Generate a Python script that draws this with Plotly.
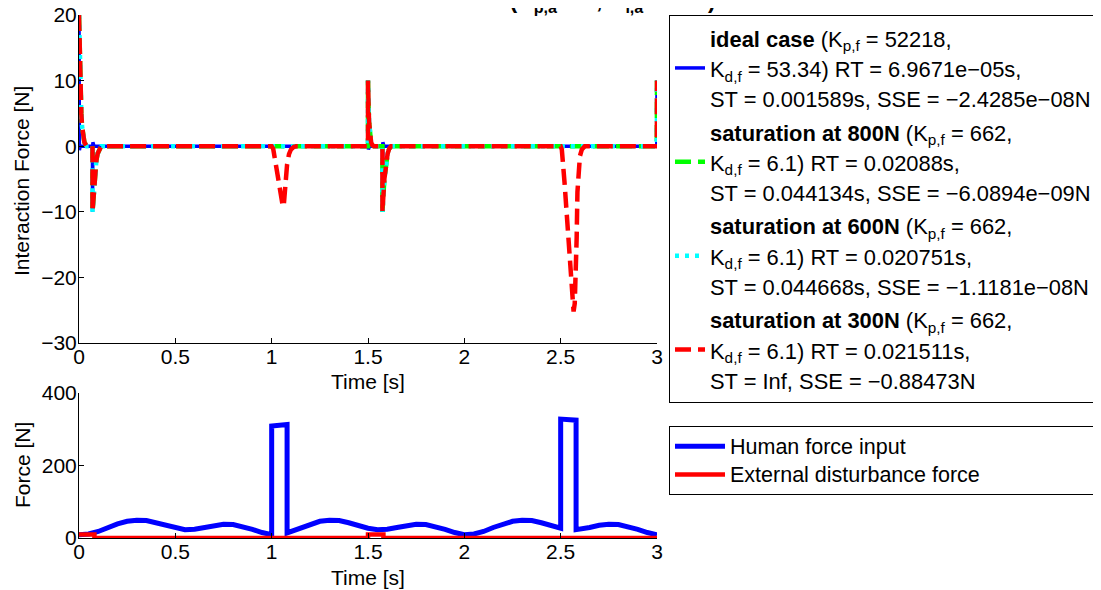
import plotly.graph_objects as go

# ---------------- data ----------------
# Top panel: interaction force [N] for four controller variants
ideal_t = [0, 0.002, 0.006, 0.07, 0.07, 0.072, 0.078, 1.5, 1.5, 1.502, 1.507,
           1.575, 1.575, 1.577, 1.583, 2.999, 3.0]
ideal_f = [20, -0.6, 0, 0, -10, 0.6, 0, 0, 10, -0.5, 0,
           0, -10, 0.6, 0, 0, 10]

sat800_t = [0, 0.004, 0.008, 0.012, 0.016, 0.02, 0.028, 0.04,
            0.07, 0.07, 0.075, 0.08, 0.085, 0.09, 0.097, 0.105, 0.115,
            1.5, 1.5, 1.503, 1.506, 1.509, 1.512, 1.516, 1.522, 1.53,
            1.575, 1.575, 1.58, 1.585, 1.59, 1.595, 1.602, 1.61, 1.62,
            2.999, 3.0]
sat800_f = [20, 13, 8, 5, 3, 1.8, 0.6, 0,
            0, -10, -7.5, -5, -3.3, -2.2, -1.1, -0.4, 0,
            0, 10, 6, 3.5, 2, 1.2, 0.6, 0.2, 0,
            0, -10, -7.5, -5, -3.3, -2.2, -1.1, -0.4, 0,
            0, 10]

sat600_t = [0, 0.004, 0.008, 0.012, 0.016, 0.02, 0.028, 0.04,
            0.07, 0.07, 0.075, 0.08, 0.085, 0.09, 0.097, 0.105, 0.115,
            1.5, 1.5, 1.503, 1.506, 1.509, 1.512, 1.516, 1.522, 1.53,
            1.575, 1.575, 1.58, 1.585, 1.59, 1.595, 1.602, 1.61, 1.62,
            2.999, 3.0]
sat600_f = [20, 13, 8, 5, 3, 1.8, 0.6, 0,
            0, -10, -7.5, -5, -3.3, -2.2, -1.1, -0.4, 0,
            0, 10, 6, 3.5, 2, 1.2, 0.6, 0.2, 0,
            0, -10, -7.5, -5, -3.3, -2.2, -1.1, -0.4, 0,
            0, 10]

sat300_t = [0, 0.004, 0.008, 0.012, 0.016, 0.02, 0.028, 0.04,
            0.07, 0.07, 0.075, 0.08, 0.085, 0.09, 0.097, 0.105, 0.115,
            1.0, 1.008, 1.02, 1.03, 1.04, 1.05, 1.058, 1.064, 1.07, 1.075,
            1.08, 1.09, 1.1, 1.115, 1.13,
            1.5, 1.5, 1.503, 1.506, 1.509, 1.512, 1.516, 1.522, 1.53,
            1.575, 1.575, 1.58, 1.585, 1.59, 1.595, 1.602, 1.61, 1.62,
            2.5, 2.506, 2.52, 2.53, 2.54, 2.55, 2.56, 2.567, 2.573, 2.578,
            2.583, 2.587, 2.592, 2.6, 2.61, 2.625,
            2.999, 3.0]
sat300_f = [20, 13, 8, 5, 3, 1.8, 0.6, 0,
            0, -10, -7.5, -5, -3.3, -2.2, -1.1, -0.4, 0,
            0, -0.4, -2.5, -4.4, -6.3, -8.2, -9.2, -8.6, -6.5, -4.4,
            -2.8, -1.2, -0.5, -0.1, 0,
            0, 10, 6, 3.5, 2, 1.2, 0.6, 0.2, 0,
            0, -10, -7.5, -5, -3.3, -2.2, -1.1, -0.4, 0,
            0, -0.5, -5.5, -9.5, -13.5, -18, -22.5, -25.2, -24, -20,
            -14, -7, -3.5, -1.5, -0.5, 0,
            0, 10]

# Bottom panel: input forces [N]
human_t = [0, 0.05, 0.1, 0.15, 0.2, 0.25, 0.3, 0.35, 0.4, 0.45, 0.5, 0.55, 0.6,
           0.65, 0.7, 0.75, 0.8, 0.85, 0.9, 0.95, 1.0, 1.0, 1.04, 1.08, 1.08,
           1.1, 1.15, 1.2, 1.25, 1.3, 1.35, 1.4, 1.45, 1.5, 1.55, 1.6, 1.65,
           1.7, 1.75, 1.8, 1.85, 1.9, 1.95, 2.0, 2.05, 2.1, 2.15, 2.2, 2.25,
           2.3, 2.35, 2.4, 2.45, 2.5, 2.5, 2.54, 2.58, 2.58, 2.6, 2.65, 2.7,
           2.75, 2.8, 2.85, 2.9, 2.95, 3.0]
human_f = [9, 11, 18, 29, 39, 46, 49, 48, 42, 34, 27, 23, 24,
           29, 35, 38, 37, 32, 24, 15, 9, 309, 311, 313, 14,
           18, 29, 39, 46, 49, 48, 42, 34, 27, 23, 24, 29,
           35, 38, 37, 32, 24, 15, 9, 11, 18, 29, 39, 46,
           49, 48, 42, 34, 27, 328, 326, 325, 23, 24, 29, 35,
           38, 37, 32, 24, 15, 9]

dist_t = [0, 0.08, 0.08, 1.5, 1.5, 1.58, 1.58, 3.0]
dist_f = [10, 10, 0, 0, 10, 10, 0, 0]

time_ticks = [0, 0.5, 1, 1.5, 2, 2.5, 3]
time_tick_text = ["0", "0.5", "1", "1.5", "2", "2.5", "3"]
top_y_ticks = [-30, -20, -10, 0, 10, 20]
bot_y_ticks = [0, 200, 400]

W, H = 1101, 590
OFF = 8  # page body margin of the written html page
FONT = "Liberation Sans, Arial, Helvetica, sans-serif"


def sp(txt, size=21.9):
    return '<span style="font-size:%spx">%s</span>' % (size, txt)


names_top = [
    sp("<b>ideal case</b> (K<sub>p,f</sub> = 52218,") + "<br>" +
    sp("K<sub>d,f</sub> = 53.34) RT = 6.9671e\u221205s,") + "<br>" +
    sp("ST = 0.001589s, SSE = \u22122.4285e\u221208N"),
    sp("<b>saturation at 800N</b> (K<sub>p,f</sub> = 662,") + "<br>" +
    sp("K<sub>d,f</sub> = 6.1) RT = 0.02088s,") + "<br>" +
    sp("ST = 0.044134s, SSE = \u22126.0894e\u221209N"),
    sp("<b>saturation at 600N</b> (K<sub>p,f</sub> = 662,") + "<br>" +
    sp("K<sub>d,f</sub> = 6.1) RT = 0.020751s,") + "<br>" +
    sp("ST = 0.044668s, SSE = \u22121.1181e\u221208N"),
    sp("<b>saturation at 300N</b> (K<sub>p,f</sub> = 662,") + "<br>" +
    sp("K<sub>d,f</sub> = 6.1) RT = 0.021511s,") + "<br>" +
    sp("ST = Inf, SSE = \u22120.88473N"),
]
names_bot = [sp("Human force input", 21.5),
             sp("External disturbance force" + "\u00a0" * 19, 21.5)]

fig = go.Figure()

fig.add_trace(go.Scatter(x=ideal_t, y=ideal_f, mode="lines", name=names_top[0],
                         line=dict(color="#0000ff", width=3.5),
                         xaxis="x", yaxis="y", legend="legend"))
fig.add_trace(go.Scatter(x=sat800_t, y=sat800_f, mode="lines", name=names_top[1],
                         line=dict(color="#00ff00", width=4.5, dash="16px,7px"),
                         xaxis="x", yaxis="y", legend="legend"))
fig.add_trace(go.Scatter(x=sat600_t, y=sat600_f, mode="lines", name=names_top[2],
                         line=dict(color="#00ffff", width=4.5, dash="4px,6px"),
                         xaxis="x", yaxis="y", legend="legend"))
fig.add_trace(go.Scatter(x=sat300_t, y=sat300_f, mode="lines", name=names_top[3],
                         line=dict(color="#ff0000", width=4.5, dash="16px,7px"),
                         xaxis="x", yaxis="y", legend="legend"))

fig.add_trace(go.Scatter(x=human_t, y=human_f, mode="lines", name=names_bot[0],
                         line=dict(color="#0000ff", width=5),
                         xaxis="x2", yaxis="y2", legend="legend2"))
fig.add_trace(go.Scatter(x=dist_t, y=dist_f, mode="lines", name=names_bot[1],
                         line=dict(color="#ff0000", width=4.5),
                         xaxis="x2", yaxis="y2", legend="legend2"))

px_x = lambda p: (p - OFF) / W
px_y = lambda p: 1 - (p - OFF) / H

axis_common = dict(showline=True, linecolor="black", linewidth=1, mirror=False,
                   ticks="inside", ticklen=5, tickcolor="black", tickwidth=1,
                   showgrid=False, zeroline=False, automargin=False,
                   ticklabeloverflow="allow",
                   tickfont=dict(family=FONT, size=21, color="black"))

fig.update_layout(
    template="none",
    width=W, height=H,
    margin=dict(l=0, r=0, t=0, b=0, autoexpand=False),
    paper_bgcolor="white", plot_bgcolor="white",
    font=dict(family=FONT, size=21, color="black"),
    xaxis=dict(domain=[px_x(79), px_x(657)], range=[0, 3], anchor="y",
               tickvals=time_ticks, ticktext=time_tick_text,
               ticklabelstandoff=-5, **axis_common),
    yaxis=dict(domain=[px_y(343), px_y(15)], range=[-30, 20], anchor="x",
               tickvals=top_y_ticks, ticklabelstandoff=-3, **axis_common),
    xaxis2=dict(domain=[px_x(79), px_x(657)], range=[0, 3], anchor="y2",
                tickvals=time_ticks, ticktext=time_tick_text,
                ticklabelstandoff=-5, **axis_common),
    yaxis2=dict(domain=[px_y(538), px_y(393)], range=[0, 400], anchor="x2",
                tickvals=bot_y_ticks, ticklabelstandoff=-3, **axis_common),
    legend=dict(x=px_x(669), y=px_y(15), xanchor="left", yanchor="top",
                bgcolor="white", bordercolor="black", borderwidth=1,
                font=dict(family=FONT, size=23.3, color="black"),
                itemwidth=30, tracegroupgap=0),
    legend2=dict(x=px_x(669), y=px_y(426), xanchor="left", yanchor="top",
                 bgcolor="white", bordercolor="black", borderwidth=1,
                 font=dict(family=FONT, size=19.5, color="black"),
                 itemwidth=50),
    showlegend=True,
)

annotations = [
    dict(text="Interaction Force [N]", x=px_x(22), y=px_y(181), textangle=-90),
    dict(text="Force [N]", x=px_x(22), y=px_y(465), textangle=-90),
    dict(text="Time [s]", x=px_x(368), y=px_y(381)),
    dict(text="Time [s]", x=px_x(368), y=px_y(577)),
]
for a in annotations:
    fig.add_annotation(xref="paper", yref="paper", showarrow=False,
                       xanchor="center", yanchor="middle",
                       font=dict(family=FONT, size=21, color="black"), **a)

fig.add_annotation(
    xref="paper", yref="paper", showarrow=False, xanchor="center", yanchor="bottom",
    x=px_x(495), y=px_y(18.5),
    text="<b>Interaction force under saturation (K<sub>p,a</sub> = 5, "
         "K<sub>i,a</sub> = 100) for all cases</b>",
    font=dict(family=FONT, size=23, color="black"))

fig.write_html("out.html")
